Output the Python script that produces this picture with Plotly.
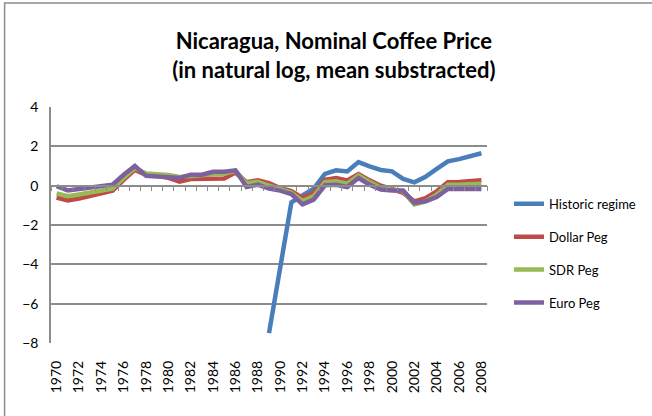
import plotly.graph_objects as go

# Years on the category axis
years = list(range(1970, 2009))
tick_years = list(range(1970, 2009, 2))

# Log nominal coffee price, mean subtracted, under each regime
historic = [None] * 19 + [
    -7.5, -4.2, -0.85, -0.5, -0.15, 0.6, 0.78, 0.72, 1.2, 0.98,
    0.8, 0.73, 0.34, 0.17, 0.45, 0.85, 1.24, 1.35, 1.49, 1.65,
]
dollar_peg = [
    -0.6, -0.75, -0.65, -0.5, -0.4, -0.25, 0.3, 0.8, 0.55, 0.52,
    0.4, 0.2, 0.34, 0.34, 0.37, 0.37, 0.67, 0.18, 0.27, 0.13,
    -0.12, -0.28, -0.62, -0.37, 0.3, 0.39, 0.27, 0.59, 0.27, 0.0,
    -0.17, -0.37, -0.8, -0.63, -0.29, 0.17, 0.19, 0.24, 0.27,
]
sdr_peg = [
    -0.4, -0.54, -0.45, -0.34, -0.27, -0.15, 0.4, 0.9, 0.62, 0.6,
    0.54, 0.44, 0.5, 0.52, 0.58, 0.6, 0.76, 0.12, 0.2, 0.0,
    -0.18, -0.35, -0.78, -0.53, 0.18, 0.22, 0.1, 0.52, 0.19, -0.1,
    -0.2, -0.29, -0.96, -0.8, -0.46, 0.05, 0.05, 0.07, 0.1,
]
euro_peg = [
    -0.03, -0.24, -0.17, -0.1, -0.07, 0.05, 0.55, 1.0, 0.5, 0.47,
    0.44, 0.39, 0.56, 0.56, 0.71, 0.71, 0.78, -0.07, 0.05, -0.15,
    -0.25, -0.43, -0.95, -0.71, 0.02, 0.05, -0.07, 0.39, 0.05, -0.2,
    -0.24, -0.25, -0.88, -0.8, -0.58, -0.17, -0.17, -0.17, -0.17,
]

series = [
    ("Historic regime", historic, "#4A7EBB"),
    ("Dollar Peg", dollar_peg, "#BE4B48"),
    ("SDR Peg", sdr_peg, "#98B954"),
    ("Euro Peg", euro_peg, "#7D60A0"),
]

FONT = "Lato, Carlito, 'Liberation Sans', sans-serif"
GRID = "#8C8C8C"

fig = go.Figure()
for i, (name, vals, color) in enumerate(series):
    fig.add_trace(go.Scatter(
        x=years, y=vals, name=name, mode="lines",
        line=dict(color=color, width=4.5),
        legendgroup=f"g{i}", connectgaps=False,
    ))

# Tick marks along the zero line, between the categories
fig.add_trace(go.Scatter(x=[years[0]], y=[None], xaxis="x2", showlegend=False,
                         hoverinfo="skip"))

fig.update_layout(
    width=652, height=416,
    margin=dict(l=51, r=164, t=107, b=73),
    paper_bgcolor="white", plot_bgcolor="white",
    font=dict(family=FONT, color="#000000"),
    title=dict(
        text="<b>Nicaragua, Nominal Coffee Price<br>(in natural log, mean substracted)</b>",
        x=0.512, xref="container", xanchor="center",
        y=1 - 49 / 416, yref="container", yanchor="middle",
        font=dict(family=FONT, size=22, color="#000000"),
    ),
    showlegend=True,
    legend=dict(
        x=1.048, xanchor="left", y=0.38, yanchor="middle",
        font=dict(family=FONT, size=13),
        tracegroupgap=13, traceorder="grouped",
        bgcolor="rgba(0,0,0,0)", itemwidth=30,
    ),
    xaxis=dict(
        range=[1969.5, 2008.5], tickmode="array", tickvals=tick_years,
        ticktext=[str(y) for y in tick_years], tickangle=-90,
        showgrid=False, showline=False, zeroline=False, ticks="",
        tickfont=dict(family=FONT, size=14), ticklabelstandoff=14,
    ),
    xaxis2=dict(
        range=[1969.5, 2008.5], overlaying="x", anchor="free",
        position=8 / 12, tickmode="array",
        tickvals=[y + 0.5 for y in range(1969, 2009)],
        showticklabels=False, ticks="outside", ticklen=5, tickcolor=GRID,
        showgrid=False, zeroline=False, showline=True, linecolor=GRID, linewidth=1.5,
    ),
    yaxis=dict(
        range=[-8, 4], dtick=2, showgrid=True, gridcolor=GRID, gridwidth=1.5,
        zeroline=False, showline=True, linecolor=GRID, linewidth=1.5,
        ticks="", tickfont=dict(family=FONT, size=14), ticklabelstandoff=8,
    ),
    shapes=[dict(
        type="rect", xref="paper", yref="paper",
        x0=(4.5 - 51) / 437, x1=1.6, y0=-0.4, y1=(343 - 3) / 236,
        line=dict(color="#8C8C8C", width=1.5), fillcolor="rgba(0,0,0,0)",
        layer="below",
    )],
)

fig.write_html("out.html")
